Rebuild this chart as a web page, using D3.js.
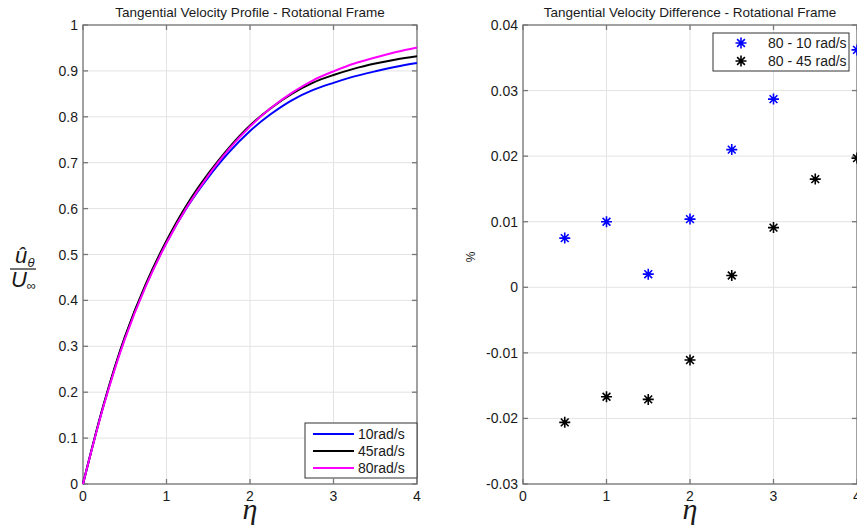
<!DOCTYPE html>
<meta charset="utf-8">
<style>
  body { margin: 0; background: #fff; }
  text { font-family: "Liberation Sans", Arial, sans-serif; fill: #1a1a1a; }
  .math { font-family: "Liberation Serif", "DejaVu Serif", serif; font-style: italic; }
</style>
<body>
  <div id="chart"></div>
  <script src="https://d3js.org/d3.v7.min.js"></script>
  <script>
    // profile data
    var eta = [0, 0.25, 0.5, 0.75, 1, 1.25, 1.5, 1.75, 2, 2.25, 2.5, 2.75, 3, 3.25, 3.5, 3.75, 4];
    var u10 = [0, 0.174, 0.318, 0.432, 0.526, 0.604, 0.668, 0.723, 0.769, 0.806, 0.836, 0.858, 0.874, 0.888, 0.899, 0.909, 0.917];
    var u45 = [0, 0.175, 0.320, 0.435, 0.530, 0.610, 0.676, 0.733, 0.781, 0.819, 0.850, 0.874, 0.891, 0.905, 0.916, 0.925, 0.932];
    var u80 = [0, 0.172, 0.315, 0.430, 0.525, 0.605, 0.672, 0.730, 0.779, 0.819, 0.852, 0.879, 0.899, 0.916, 0.929, 0.941, 0.951];
    var profileNames = ['10rad/s', '45rad/s', '80rad/s'];

    // difference data
    var diffEta = [0.5, 1, 1.5, 2, 2.5, 3, 3.5, 4];
    var d80_10 = [0.0075, 0.0100, 0.0020, 0.0104, 0.0210, 0.0287, 0.0345, 0.0362];
    var d80_45 = [-0.0206, -0.0167, -0.0171, -0.0111, 0.0018, 0.0091, 0.0165, 0.0197];
    var diffNames = ['80 - 10 rad/s', '80 - 45 rad/s'];

    var xTicks = [0, 1, 2, 3, 4];
    var yTicksLeft = [0, 0.1, 0.2, 0.3, 0.4, 0.5, 0.6, 0.7, 0.8, 0.9, 1];
    var yTicksRight = [-0.03, -0.02, -0.01, 0, 0.01, 0.02, 0.03, 0.04];

    var W = 857, H = 525;
    var svg = d3.select('#chart').append('svg')
      .attr('width', W)
      .attr('height', H);

    var plotTop = 25, plotBottom = 484;

    function drawAxes(x0, x1, yDomain, yTicks, title) {
      var x = d3.scaleLinear().domain([0, 4]).range([x0, x1]);
      var y = d3.scaleLinear().domain(yDomain).range([plotBottom, plotTop]);
      var g = svg.append('g');

      // grid
      g.selectAll('.gx').data(xTicks).enter().append('line')
        .attr('x1', d => x(d)).attr('x2', d => x(d))
        .attr('y1', plotTop).attr('y2', plotBottom)
        .style('stroke', '#e3e3e3').style('stroke-width', 1);
      g.selectAll('.gy').data(yTicks).enter().append('line')
        .attr('x1', x0).attr('x2', x1)
        .attr('y1', d => y(d)).attr('y2', d => y(d))
        .style('stroke', '#e3e3e3').style('stroke-width', 1);

      // box
      g.append('rect')
        .attr('x', x0).attr('y', plotTop)
        .attr('width', x1 - x0).attr('height', plotBottom - plotTop)
        .style('fill', 'none').style('stroke', '#777').style('stroke-width', 1.3);

      // inward ticks on all four sides
      var tl = 5;
      xTicks.forEach(function (t) {
        g.append('line').attr('x1', x(t)).attr('x2', x(t)).attr('y1', plotBottom).attr('y2', plotBottom - tl)
          .style('stroke', '#777').style('stroke-width', 1.3);
        g.append('line').attr('x1', x(t)).attr('x2', x(t)).attr('y1', plotTop).attr('y2', plotTop + tl)
          .style('stroke', '#777').style('stroke-width', 1.3);
      });
      yTicks.forEach(function (t) {
        g.append('line').attr('x1', x0).attr('x2', x0 + tl).attr('y1', y(t)).attr('y2', y(t))
          .style('stroke', '#777').style('stroke-width', 1.3);
        g.append('line').attr('x1', x1).attr('x2', x1 - tl).attr('y1', y(t)).attr('y2', y(t))
          .style('stroke', '#777').style('stroke-width', 1.3);
      });

      // tick labels
      g.selectAll('.xl').data(xTicks).enter().append('text')
        .attr('x', d => x(d)).attr('y', plotBottom + 17)
        .attr('text-anchor', 'middle')
        .style('font-size', '14px')
        .text(d => String(d));
      g.selectAll('.yl').data(yTicks).enter().append('text')
        .attr('x', x0 - 5).attr('y', d => y(d) + 5)
        .attr('text-anchor', 'end')
        .style('font-size', '14px')
        .text(d => String(d));

      g.append('text')
        .attr('x', (x0 + x1) / 2).attr('y', 17)
        .attr('text-anchor', 'middle')
        .style('font-size', '13.5px')
        .text(title);

      g.append('text')
        .attr('class', 'math')
        .attr('x', (x0 + x1) / 2).attr('y', 519)
        .attr('text-anchor', 'middle')
        .style('font-size', '30px')
        .text('η');

      return { x: x, y: y, g: g };
    }

    // ---- left panel: velocity profiles
    var L = drawAxes(83, 417, [0, 1], yTicksLeft, 'Tangential Velocity Profile - Rotational Frame');
    var profiles = [u10, u45, u80];
    var profileColors = ['#0000ff', '#000000', '#ff00ff'];

    var line = d3.line()
      .x((d, i) => L.x(eta[i]))
      .y(d => L.y(d))
      .curve(d3.curveCatmullRom.alpha(0.5));

    L.g.selectAll('.profile').data(profiles).enter().append('path')
      .attr('d', d => line(d))
      .style('fill', 'none')
      .style('stroke', (d, i) => profileColors[i])
      .style('stroke-width', 2);

    // left y label as a fraction
    var yl = svg.append('g').attr('class', 'math');
    yl.append('text').attr('x', 21).attr('y', 263).attr('text-anchor', 'middle')
      .style('font-size', '22px').text('û');
    yl.append('text').attr('x', 31).attr('y', 267).attr('text-anchor', 'middle')
      .style('font-size', '13px').text('θ');
    yl.append('line').attr('x1', 10).attr('x2', 36).attr('y1', 269).attr('y2', 269)
      .style('stroke', '#1a1a1a').style('stroke-width', 1.2);
    yl.append('text').attr('x', 19).attr('y', 287).attr('text-anchor', 'middle')
      .style('font-size', '22px').text('U');
    yl.append('text').attr('x', 31).attr('y', 290).attr('text-anchor', 'middle')
      .style('font-size', '13px').text('∞');

    // left legend
    var lg = svg.append('g').attr('transform', 'translate(305,423)');
    lg.append('rect').attr('width', 112).attr('height', 55)
      .style('fill', '#fff').style('stroke', '#333').style('stroke-width', 1);
    profileNames.forEach(function (n, i) {
      lg.append('line').attr('x1', 8).attr('x2', 49).attr('y1', 11 + i * 17).attr('y2', 11 + i * 17)
        .style('stroke', profileColors[i]).style('stroke-width', 2);
      lg.append('text').attr('x', 53).attr('y', 16 + i * 17)
        .style('font-size', '14px').text(n);
    });

    // ---- right panel: differences
    var R = drawAxes(523, 857, [-0.03, 0.04], yTicksRight, 'Tangential Velocity Difference - Rotational Frame');

    function star(r) {
      var a = r * 0.7071;
      return 'M' + (-r) + ',0L' + r + ',0M0,' + (-r) + 'L0,' + r +
        'M' + (-a) + ',' + (-a) + 'L' + a + ',' + a + 'M' + (-a) + ',' + a + 'L' + a + ',' + (-a);
    }

    var diffSeries = [d80_10, d80_45];
    var diffColors = ['#0000ff', '#000000'];
    diffSeries.forEach(function (s, k) {
      R.g.selectAll('.s' + k).data(s).enter().append('path')
        .attr('transform', (d, i) => 'translate(' + R.x(diffEta[i]) + ',' + R.y(d) + ')')
        .attr('d', star(5.5))
        .style('fill', 'none')
        .style('stroke', diffColors[k])
        .style('stroke-width', 1.6);
    });

    svg.append('text')
      .attr('transform', 'translate(475,257) rotate(-90)')
      .attr('text-anchor', 'middle')
      .style('font-size', '12px')
      .text('%');

    // right legend (opaque, hides the point behind it as in the original)
    var rg = svg.append('g').attr('transform', 'translate(713,33)');
    rg.append('rect').attr('width', 136).attr('height', 38)
      .style('fill', '#fff').style('stroke', '#333').style('stroke-width', 1);
    diffNames.forEach(function (n, i) {
      rg.append('path').attr('transform', 'translate(28,' + (10 + i * 18) + ')')
        .attr('d', star(5.5))
        .style('fill', 'none').style('stroke', diffColors[i]).style('stroke-width', 1.6);
      rg.append('text').attr('x', 55).attr('y', 15 + i * 18)
        .style('font-size', '14px').text(n);
    });
  </script>
</body>
